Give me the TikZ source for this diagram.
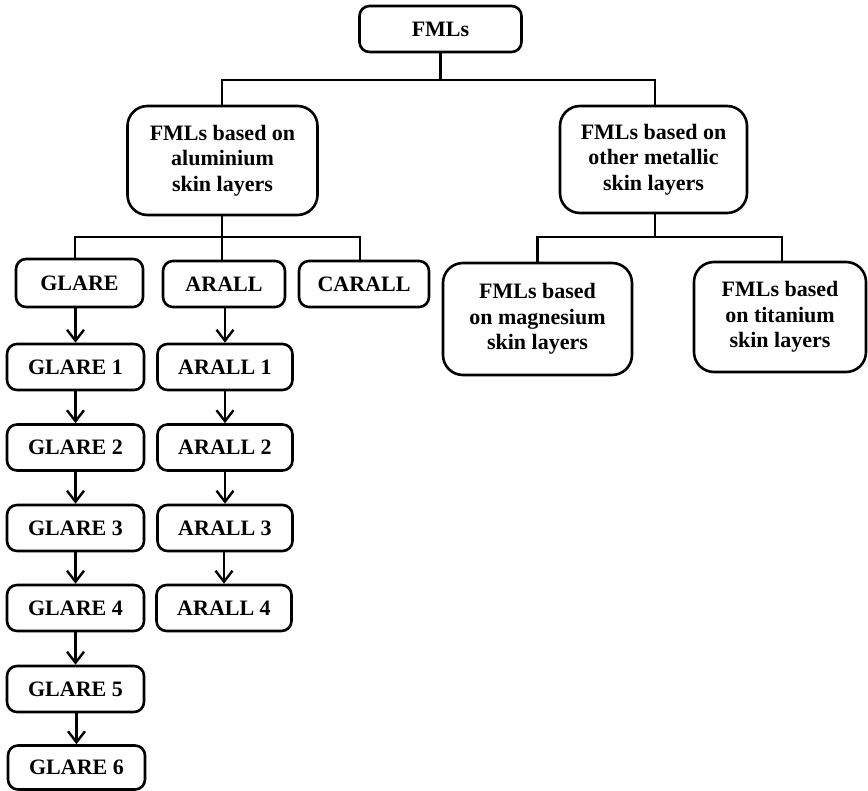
\documentclass[tikz,border=0pt]{standalone}
\usepackage{fontspec}
\setmainfont{Liberation Serif}
\usetikzlibrary{arrows.meta}
\begin{document}
\begin{tikzpicture}[x=1pt,y=-1pt,
  box/.style={draw, line width=2.6pt, rounded corners=10pt, inner sep=0pt,
    align=center, font=\fontsize{22}{25.5}\selectfont\bfseries},
  bigbox/.style={box, rounded corners=20pt},
  con/.style={line width=2.4pt},
  arr/.style={line width=2.4pt, -{Straight Barb[length=11pt,width=17pt]}}]
\useasboundingbox (0,0) rectangle (868,791);
% top
\node[box, minimum width=162pt, minimum height=46pt] (fml) at (440.5,29) {FMLs};
\node[bigbox, minimum width=190pt, minimum height=109pt] (alu) at (222.5,160.5) {FMLs based on\\aluminium\\skin layers};
\node[bigbox, minimum width=187pt, minimum height=107pt] (oth) at (653.5,159.5) {FMLs based on\\other metallic\\skin layers};
% second row
\node[box, minimum width=127pt, minimum height=48pt] (glare) at (79.5,283) {GLARE};
\node[box, minimum width=122pt, minimum height=46pt] (arall) at (224,284) {ARALL};
\node[box, minimum width=130pt, minimum height=46pt] (carall) at (364,284) {CARALL};
\node[bigbox, minimum width=189pt, minimum height=112pt] (mag) at (537.5,319) {FMLs based\\on magnesium\\skin layers};
\node[bigbox, minimum width=172pt, minimum height=110pt] (tit) at (780,317) {FMLs based\\on titanium\\skin layers};
% glare column
\node[box, minimum width=137pt, minimum height=46pt] (g1) at (75.5,367) {GLARE 1};
\node[box, minimum width=137pt, minimum height=46pt] (g2) at (75.5,447.5) {GLARE 2};
\node[box, minimum width=137pt, minimum height=46pt] (g3) at (75.5,528) {GLARE 3};
\node[box, minimum width=137pt, minimum height=46pt] (g4) at (75.5,608) {GLARE 4};
\node[box, minimum width=137pt, minimum height=46pt] (g5) at (75.5,689) {GLARE 5};
\node[box, minimum width=137pt, minimum height=44pt] (g6) at (76.5,767.5) {GLARE 6};
% arall column
\node[box, minimum width=135pt, minimum height=46pt] (a1) at (225,367) {ARALL 1};
\node[box, minimum width=135pt, minimum height=46pt] (a2) at (225,447.5) {ARALL 2};
\node[box, minimum width=135pt, minimum height=46pt] (a3) at (225,528) {ARALL 3};
\node[box, minimum width=135pt, minimum height=46pt] (a4) at (224,608) {ARALL 4};
% junction coordinates
\coordinate (j0) at (440.5,80);
\coordinate (j1) at (222,237);
\coordinate (j2) at (655,237);
% tree connectors
\draw[con] (fml.south) -- (j0);
\draw[con] (alu.north -| 222,0) |- (j0) -| (oth.north -| 655,0);
\draw[con] (alu.south -| j1) -- (j1);
\draw[con] (glare.north -| 75,0) |- (j1) -| (carall.north -| 360,0);
\draw[con] (j1) -- (arall.north -| j1);
\draw[con] (oth.south -| j2) -- (j2);
\draw[con] (mag.north) |- (j2) -| (tit.north -| 782,0);
% arrows
\draw[arr] (glare.south -| g1.north) -- (g1.north);
\draw[arr] (g1.south) -- (g2.north);
\draw[arr] (g2.south) -- (g3.north);
\draw[arr] (g3.south) -- (g4.north);
\draw[arr] (g4.south) -- (g5.north);
\draw[arr] (g5.south -| g6.north) -- (g6.north);
\draw[arr] (arall.south -| a1.north) -- (a1.north);
\draw[arr] (a1.south) -- (a2.north);
\draw[arr] (a2.south) -- (a3.north);
\draw[arr] (a3.south -| a4.north) -- (a4.north);
\end{tikzpicture}
\end{document}
